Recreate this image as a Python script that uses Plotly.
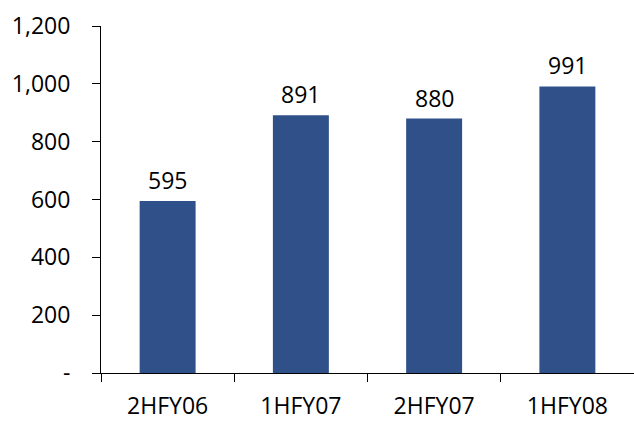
import plotly.graph_objects as go

categories = ["2HFY06", "1HFY07", "2HFY07", "1HFY08"]
values = [595, 891, 880, 991]
ytick_vals = [0, 200, 400, 600, 800, 1000, 1200]
ytick_text = ["-", "200", "400", "600", "800", "1,000", "1,200"]

FONT = "Open Sans"
BAR = "#30508A"

fig = go.Figure()
fig.add_trace(go.Bar(x=categories, y=values, marker=dict(color=BAR, line=dict(width=0)),
                     hoverinfo="skip"))

for c, v in zip(categories, values):
    fig.add_annotation(x=c, y=v, text=f"{v:,}", showarrow=False, yanchor="middle",
                       yshift=21, font=dict(family=FONT, size=23, color="#000000"))

fig.update_layout(
    width=634, height=422,
    margin=dict(l=101, r=0, t=26, b=49),
    paper_bgcolor="white", plot_bgcolor="white",
    showlegend=False, bargap=0.58,
    font=dict(family=FONT, size=23, color="#000000"),
)
fig.update_xaxes(
    showline=True, linecolor="#000000", linewidth=1,
    ticks="outside", tickson="boundaries", ticklen=8, tickcolor="#000000",
    showgrid=False, ticklabelstandoff=12, automargin=False,
    tickfont=dict(family=FONT, size=23, color="#000000"),
)
fig.update_yaxes(
    range=[0, 1200], tickvals=ytick_vals, ticktext=ytick_text,
    showline=True, linecolor="#000000", linewidth=1,
    ticks="outside", ticklen=8, tickcolor="#000000",
    showgrid=False, zeroline=False, ticklabelstandoff=17, automargin=False,
    tickfont=dict(family=FONT, size=23, color="#000000"),
)

fig.write_html("out.html")
